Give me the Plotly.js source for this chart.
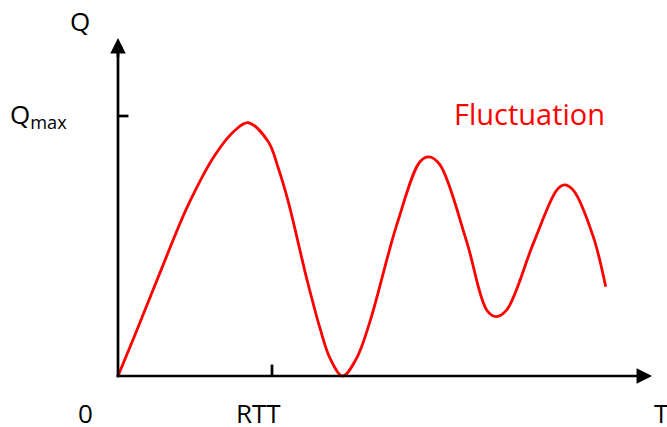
<!DOCTYPE html>
<html>
<head>
<meta charset="utf-8">
<script src="https://cdn.plot.ly/plotly-3.0.1.min.js"></script>
<style>html,body{margin:0;padding:0;background:#fff;}#chart{width:667px;height:427px;}</style>
</head>
<body>
<div id="chart"></div>
<script>
// Time in units of RTT, queue length in units of Qmax
const timeT = [0, 0.110, 0.284, 0.456, 0.630, 0.760, 0.846, 0.976, 1.041, 1.106, 1.225, 1.312, 1.377, 1.459, 1.549, 1.636, 1.810, 1.961, 2.021, 2.091, 2.264, 2.394, 2.455, 2.524, 2.697, 2.849, 2.898, 2.956, 3.086, 3.167];
const queueQ = [0, 0.158, 0.414, 0.658, 0.850, 0.945, 0.974, 0.901, 0.799, 0.670, 0.376, 0.183, 0.068, 0.0, 0.068, 0.209, 0.581, 0.824, 0.843, 0.812, 0.517, 0.254, 0.228, 0.254, 0.510, 0.715, 0.735, 0.715, 0.536, 0.343];
const axisLabels = {q: 'Q', qmax: 'Q<sub>max</sub>', zero: '0', rtt: 'RTT', t: 'T'};
const curveLabel = 'Fluctuation';
const tickRTT = 1;   // RTT tick on time axis
const tickQmax = 1;  // Qmax tick on queue axis

const W = 667, H = 427;
const FONT = '"Open Sans", "Noto Sans", sans-serif';
const AXW = 2.7;
function px(x){ return x / W; }
function py(y){ return 1 - y / H; }

const trace = {
  x: timeT, y: queueQ, type: 'scatter', mode: 'lines',
  line: {color: '#ff0000', width: 2.8, shape: 'spline', smoothing: 1, simplify: false},
  hoverinfo: 'skip'
};

const shapes = [
  {type: 'line', xref: 'x', yref: 'y', x0: -0.009, x1: 3.40, y0: 0, y1: 0, line: {color: '#000', width: AXW}},
  {type: 'line', xref: 'x', yref: 'y', x0: 0, x1: 0, y0: -0.005, y1: 1.25, line: {color: '#000', width: AXW}},
  {type: 'line', xref: 'x', yref: 'y', x0: 0, x1: 0.068, y0: tickQmax, y1: tickQmax, line: {color: '#000', width: AXW}},
  {type: 'line', xref: 'x', yref: 'y', x0: tickRTT, x1: tickRTT, y0: 0, y1: 0.044, line: {color: '#000', width: AXW}}
];

const txt = (text, x, y, xa, size, color) => ({
  text: text, xref: 'paper', yref: 'paper', x: px(x), y: py(y),
  xanchor: xa, yanchor: 'middle', showarrow: false,
  font: {family: FONT, size: size, color: color || '#000'}
});

const annotations = [
  {text: '', xref: 'x', yref: 'y', axref: 'x', ayref: 'y', x: 3.468, y: 0, ax: 3.36, ay: 0,
   showarrow: true, arrowhead: 2, arrowsize: 1.15, arrowwidth: AXW, arrowcolor: '#000', standoff: 0, startstandoff: 0},
  {text: '', xref: 'x', yref: 'y', axref: 'x', ayref: 'y', x: 0, y: 1.30, ax: 0, ay: 1.22,
   showarrow: true, arrowhead: 2, arrowsize: 1.15, arrowwidth: AXW, arrowcolor: '#000', standoff: 0, startstandoff: 0},
  txt(axisLabels.q, 80, 21, 'center', 26),
  txt(axisLabels.qmax, 8, 115, 'left', 26),
  txt(axisLabels.zero, 85.5, 413, 'center', 26),
  txt(axisLabels.rtt, 258, 413, 'center', 26),
  txt(axisLabels.t, 652, 413, 'left', 26),
  txt(curveLabel, 452, 113, 'left', 29, '#ff0000')
];

const layout = {
  width: W, height: H,
  margin: {l: 0, r: 0, t: 0, b: 0, pad: 0},
  paper_bgcolor: '#fff', plot_bgcolor: '#fff',
  showlegend: false,
  xaxis: {range: [-118/154, 549/154], visible: false, fixedrange: true},
  yaxis: {range: [-51/260, 376/260], visible: false, fixedrange: true},
  shapes: shapes,
  annotations: annotations
};

Plotly.newPlot('chart', [trace], layout, {staticPlot: true, displayModeBar: false});
</script>
</body>
</html>
